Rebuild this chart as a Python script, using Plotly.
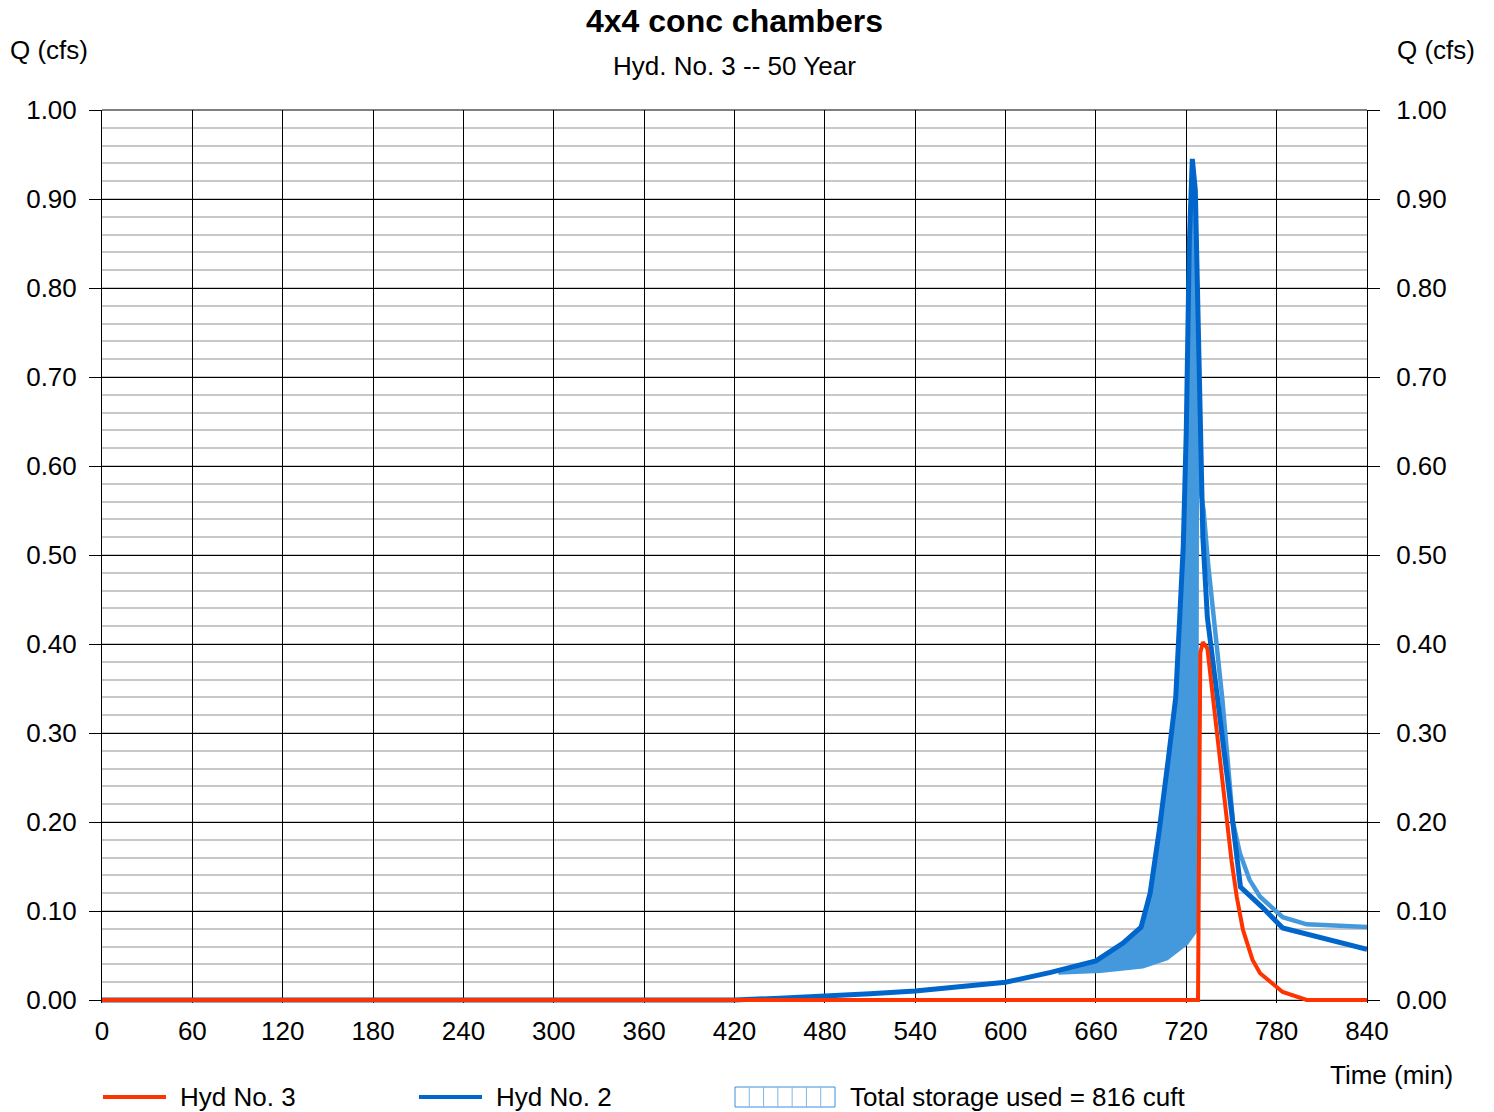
import plotly.graph_objects as go

# ---------------- data ----------------
time_hyd2 = [0, 420, 450, 480, 510, 540, 570, 600, 630, 660, 678, 690, 696, 702, 708, 713,
             718, 720, 722, 724, 726, 728, 731, 734, 741, 748, 754, 756, 770, 784, 840]
q_hyd2 = [0, 0, 0.002, 0.004, 0.007, 0.010, 0.015, 0.020, 0.031, 0.044, 0.064, 0.082, 0.12, 0.19,
          0.27, 0.34, 0.51, 0.64, 0.85, 0.945, 0.91, 0.73, 0.52, 0.43, 0.34, 0.24, 0.155, 0.127,
          0.105, 0.081, 0.057]

time_hyd3 = [0, 727.8, 729.3, 731, 734, 738, 744, 750, 753.5, 757.6, 764, 769, 784, 800, 840]
q_hyd3 = [0, 0, 0.39, 0.402, 0.395, 0.335, 0.247, 0.157, 0.116, 0.079, 0.045, 0.030, 0.009, 0, 0]

time_storage = [635, 663, 691, 707, 720, 726, 726.5, 727, 731.5, 734.5, 744, 751, 755.6, 762,
                769, 784, 800, 840]
q_storage = [0.031, 0.033, 0.038, 0.047, 0.064, 0.079, 0.079, 0.60, 0.55, 0.49, 0.337, 0.20,
             0.165, 0.135, 0.116, 0.093, 0.085, 0.082]

x_ticks = list(range(0, 841, 60))
y_ticks = [round(0.1 * i, 2) for i in range(11)]

title_text = "4x4 conc chambers"
subtitle_text = "Hyd. No. 3 -- 50 Year"
legend_hyd3 = "Hyd No. 3"
legend_hyd2 = "Hyd No. 2"
legend_storage = "Total storage used = 816 cuft"

# ---------------- styles ----------------
RED = "#FF3300"
BLUE = "#0066CC"
LIGHT = "#4499DD"
FONT = "Liberation Sans, Arial, sans-serif"
FS = 26

W, H = 1494, 1112
L, R, T = 102, 1367, 110
ZERO = 1000          # pixel row of Q = 0
EXTRA = 3            # small extension below zero so the baseline line is not clipped
B = ZERO + EXTRA
PPU = ZERO - T       # pixels per 1.0 cfs
Y_MIN = -EXTRA / PPU


def px(xp):
    return (xp - L) / (R - L)


def py(yp):
    return (B - yp) / (B - T)


fig = go.Figure()

# storage fill polygon: inflow rising limb + storage boundary (reversed)
fill_end = 731
fx = [t for t in time_hyd2 if 635 <= t <= fill_end]
fy = [q for t, q in zip(time_hyd2, q_hyd2) if 635 <= t <= fill_end]
sx = [t for t in time_storage if t <= 731.5]
sy = [q for t, q in zip(time_storage, q_storage) if t <= 731.5]
fig.add_trace(go.Scatter(x=fx + sx[::-1], y=fy + sy[::-1], mode="lines", fill="toself",
                         fillcolor=LIGHT, line=dict(width=0, color=LIGHT),
                         hoverinfo="skip", showlegend=False))
fig.add_trace(go.Scatter(x=time_storage, y=q_storage, mode="lines",
                         line=dict(color=LIGHT, width=4.5), showlegend=False))
fig.add_trace(go.Scatter(x=time_hyd2, y=q_hyd2, mode="lines",
                         line=dict(color=BLUE, width=5), showlegend=False))
fig.add_trace(go.Scatter(x=time_hyd3, y=q_hyd3, mode="lines",
                         line=dict(color=RED, width=4), showlegend=False))
# right axis carrier
fig.add_trace(go.Scatter(x=[0], y=[0], yaxis="y2", mode="markers",
                         marker=dict(opacity=0), hoverinfo="skip", showlegend=False))

fig.update_layout(
    width=W, height=H,
    margin=dict(l=L, r=W - R, t=T, b=H - B, pad=0),
    paper_bgcolor="white", plot_bgcolor="white",
    font=dict(family=FONT, size=FS, color="black"),
    showlegend=False,
    xaxis=dict(range=[0, 840], tickvals=x_ticks, ticktext=[str(v) for v in x_ticks],
               showgrid=True, gridcolor="black", gridwidth=1,
               showline=False, ticks="", zeroline=False, ticklabelstandoff=10,
               tickfont=dict(family=FONT, size=FS, color="black")),
    yaxis=dict(range=[Y_MIN, 1], tickvals=y_ticks, tickformat=".2f",
               showgrid=True, gridcolor="black", gridwidth=1,
               minor=dict(dtick=0.02, tick0=0, showgrid=True, gridcolor="#C8C8C8", gridwidth=2),
               showline=True, mirror=True, linecolor="black", linewidth=1,
               ticks="outside", ticklen=12, tickcolor="black", tickwidth=1,
               zeroline=False, ticklabelstandoff=7,
               tickfont=dict(family=FONT, size=FS, color="black")),
    yaxis2=dict(range=[Y_MIN, 1], tickvals=y_ticks, tickformat=".2f", overlaying="y",
                side="right", showgrid=False, zeroline=False, showline=False,
                ticks="outside", ticklen=12, tickcolor="black", tickwidth=1,
                ticklabelstandoff=11,
                tickfont=dict(family=FONT, size=FS, color="black")),
)

# top frame line
fig.add_shape(type="line", xref="paper", yref="paper", x0=0, x1=1, y0=1, y1=1,
              line=dict(color="black", width=1), layer="above")

ann = [
    dict(text="<b>" + title_text + "</b>", x=px(734.5), y=py(21), font=dict(size=32)),
    dict(text=subtitle_text, x=px(734.5), y=py(66)),
    dict(text="Q (cfs)", x=px(49.5), y=py(50)),
    dict(text="Q (cfs)", x=px(1436.5), y=py(50)),
    dict(text="Time (min)", x=px(1391.5), y=py(1075)),
]
for a in ann:
    fig.add_annotation(xref="paper", yref="paper", xanchor="center", yanchor="middle",
                       showarrow=False, **a)

for txt, xp in [(legend_hyd3, 178), (legend_hyd2, 494), (legend_storage, 848)]:
    fig.add_annotation(text=txt, xref="paper", yref="paper", x=px(xp), y=py(1097),
                       xanchor="left", yanchor="middle", showarrow=False)

# legend samples
fig.add_shape(type="line", xref="paper", yref="paper", x0=px(103), x1=px(166),
              y0=py(1097), y1=py(1097), line=dict(color=RED, width=4))
fig.add_shape(type="line", xref="paper", yref="paper", x0=px(419), x1=px(482),
              y0=py(1097), y1=py(1097), line=dict(color=BLUE, width=4))
bx0, bx1, by0, by1 = 735, 835, 1087, 1107
fig.add_shape(type="rect", xref="paper", yref="paper", x0=px(bx0), x1=px(bx1),
              y0=py(by1), y1=py(by0), line=dict(color="#3A8FDB", width=1))
n = 7
for i in range(1, n):
    xv = bx0 + (bx1 - bx0) * i / n
    fig.add_shape(type="line", xref="paper", yref="paper", x0=px(xv), x1=px(xv),
                  y0=py(by1), y1=py(by0), line=dict(color="#7DB8EA", width=1))

fig.write_html("out.html")
